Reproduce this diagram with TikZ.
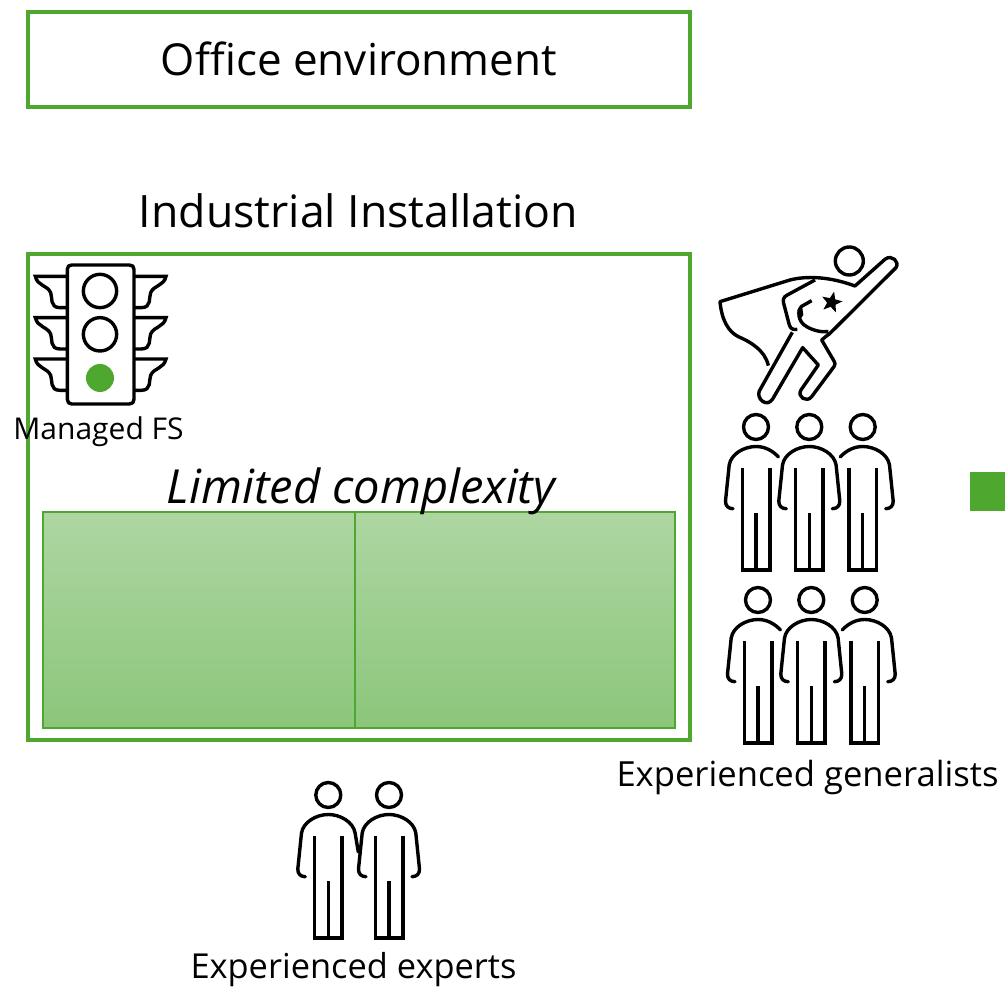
\documentclass[tikz,border=0pt]{standalone}
\usepackage{fontspec}
\setmainfont{Open Sans}
\usetikzlibrary{shapes.geometric}
\definecolor{grn}{HTML}{4EA72E}
\definecolor{gtop}{HTML}{AED6A2}
\definecolor{gbot}{HTML}{8BC67B}
\newcommand{\fs}[1]{\fontsize{#1}{#1}\selectfont}
\tikzset{
  frame/.style={draw=grn,line width=3.2pt,fill=none},
  panel/.style={draw=grn,line width=2pt,top color=gtop,bottom color=gbot,shading angle=0},
  icon/.style={draw=black,line width=3.4pt,line join=round,line cap=butt},
  txt/.style={text=black,inner sep=0pt,anchor=center},
  pics/bodycore/.style={code={
    \draw[icon] (0,0) circle (12.5);
    \draw[icon,line join=miter] (-13.8,40.7) -- (-13.8,143) -- (13.8,143) -- (13.8,40.7);
    \draw[icon] (0,86) -- (0,143);
  }},
  pics/fullarms/.style={code={
    \draw[icon,line cap=round] (-23,81.7) .. controls (-27.5,81.7) and (-30.7,79) .. (-30.5,74) -- (-26.8,38) .. controls (-25,27) and (-12,19.5) .. (0,19.5) .. controls (12,19.5) and (25,27) .. (26.8,38) -- (30.5,74) .. controls (30.7,79) and (27.5,81.7) .. (23,81.7);
  }},
  pics/leftonly/.style={code={
    \draw[icon,line cap=round] (-23,81.7) .. controls (-27.5,81.7) and (-30.7,79) .. (-30.5,74) -- (-26.8,38) .. controls (-25,27) and (-12,19.5) .. (0,19.5) .. controls (8,19.5) and (16,23) .. (22.5,30);
  }},
  pics/rightonly/.style={code={
    \draw[icon,line cap=round] (23,81.7) .. controls (27.5,81.7) and (30.7,79) .. (30.5,74) -- (26.8,38) .. controls (25,27) and (12,19.5) .. (0,19.5) .. controls (-8,19.5) and (-16,23) .. (-22.5,30);
  }},
  pics/trio/.style={code={
    \pic at (0,0) {bodycore}; \pic at (53.3,0) {bodycore}; \pic at (106.7,0) {bodycore};
    \pic at (0,0) {leftonly};
    \pic at (53.3,0) {fullarms};
    \pic at (106.7,0) {rightonly};
  }},
}
\begin{document}
\begin{tikzpicture}[x=1pt,y=-1pt]
\useasboundingbox (0,0) rectangle (1005,987);
\fill[white] (0,0) rectangle (1005,987);
% frames
\node[frame,minimum width=662pt,minimum height=95pt,inner sep=0pt] (office) at (359,59.5) {};
\node[txt] (officet) at (359,59) {\fs{44}Office environment};
\node[txt] (indust) at (358.5,211) {\fs{44.6}Industrial Installation};
\node[frame,minimum width=662pt,minimum height=486pt,inner sep=0pt] (install) at (359,497) {};
\node[panel,minimum width=312pt,minimum height=216pt,inner sep=0pt] (pl) at (199,620) {};
\node[panel,minimum width=320pt,minimum height=216pt,inner sep=0pt] (pr) at (515,620) {};
\node[txt] (limited) at (361,491) {\fs{47}\itshape Limited complexity};
\node[fill=grn,minimum width=35pt,minimum height=39pt,inner sep=0pt] (sq) at (987.5,491.5) {};
% traffic light
\begin{scope}[shift={(10pt,-240pt)},x=.3333pt,y=-.3333pt]
  \draw[icon] (172,88) .. controls (172,79) and (177,75) .. (185,75) -- (358,75) .. controls (367,75) and (372,79) .. (372,88) -- (372,478) .. controls (372,487) and (367,492) .. (358,492) -- (185,492) .. controls (177,492) and (172,487) .. (172,478) -- cycle;
  \draw[icon] (270,153) circle (50);
  \draw[icon] (270,283) circle (50);
  \fill[grn] (270,414) circle (42);
  \foreach \d in {0,124,248}{
    \begin{scope}[yshift=-\d*.3333pt]
    \draw[icon,line join=miter] (172,109) -- (76,109) .. controls (82,138) and (112,135) .. (122,158) .. controls (128,172) and (118,203) .. (150,203) -- (172,203);
    \draw[icon,line join=miter] (372,109) -- (468,109) .. controls (462,138) and (432,135) .. (422,158) .. controls (416,172) and (426,203) .. (394,203) -- (372,203);
    \end{scope}
  }
\end{scope}
\node[txt] (fs) at (98.5,432) {\fs{30}Managed FS};
% superhero
\begin{scope}[shift={(700pt,-235pt)},x=.3333pt,y=-.3333pt]
  \draw[icon] (448,78) circle (42);
  \draw[icon] (205,392) .. controls (195,345) and (150,320) .. (115,305) .. controls (85,290) and (65,255) .. (60,200) -- (270,135) .. controls (320,122) and (390,125) .. (465,153) -- (556,72) .. controls (575,58) and (600,80) .. (588,98) -- (385,300);
  \draw[icon] (345,135) -- (262,180) .. controls (250,186) and (248,195) .. (251,205) -- (268,270) .. controls (272,283) and (282,285) .. (292,283);
  \draw[icon] (335,197) -- (305,214) .. controls (292,225) and (292,260) .. (320,275) .. controls (340,287) and (365,292) .. (385,290);
  \fill[black] (292,225) -- (306,212) -- (310,240) -- (300,255) -- cycle;
  \node[star,star points=5,star point ratio=2.4,fill=black,minimum size=22pt,inner sep=0pt,draw=none,rotate=-13] (starn) at (395,202) {};
  \draw[icon] (277,292) -- (178,468) .. controls (168,490) and (200,520) .. (218,492) -- (308,338) -- (355,390) -- (303,465) .. controls (290,485) and (320,505) .. (335,485) -- (402,395) .. controls (406,388) and (406,384) .. (402,378) -- (365,315) -- (388,296);
\end{scope}
% people
\pic at (756,427) {trio};
\pic at (758,600) {trio};
\node[txt] (gen) at (807.5,778) {\fs{34.6}Experienced generalists};
% experts
\pic at (328.3,795) {bodycore};
\pic at (389,795) {bodycore};
\draw[icon,line cap=round,shift={(328.3pt,-795pt)}] (-23,81.7) .. controls (-27.5,81.7) and (-30.7,79) .. (-30.5,74) -- (-26.8,38) .. controls (-25,27) and (-12,19.5) .. (0,19.5) .. controls (12,19.5) and (25,27) .. (26.8,38) -- (30,57);
\pic at (389,795) {fullarms};
\node[txt] (exp) at (353.5,969.5) {\fs{34.4}Experienced experts};
\end{tikzpicture}
\end{document}
